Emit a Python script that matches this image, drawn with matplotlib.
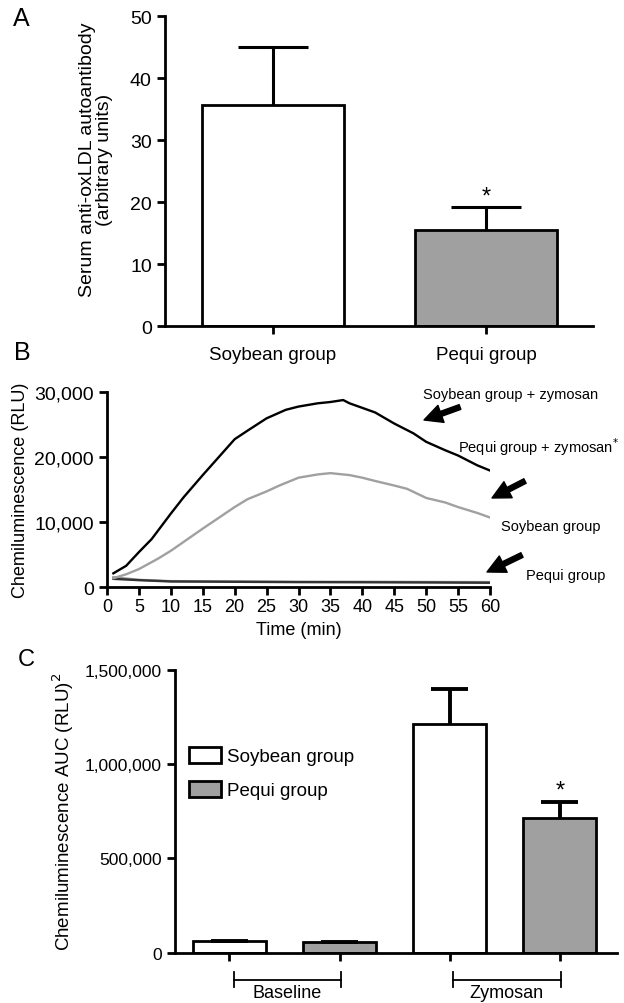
import numpy as np
import matplotlib
matplotlib.use('Agg')
from matplotlib import pyplot as plt
from matplotlib.ticker import FuncFormatter
from matplotlib.transforms import blended_transform_factory
from matplotlib.patches import Patch, FancyArrowPatch

plt.rcParams['font.family'] = ['Liberation Sans', 'DejaVu Sans']

# ---- panel A data
groups = ['Soybean group', 'Pequi group']
oxldl_mean = [35.7, 15.6]
oxldl_err = [9.3, 3.7]

# ---- panel B data
t_zym = [1, 3, 5, 7, 10, 12, 15, 18, 20, 22, 25, 28, 30, 33, 35, 37, 38, 40, 42, 45, 48, 50, 53, 55, 58, 60]
soy_zym = [2150, 3300, 5400, 7400, 11300, 13800, 17200, 20500, 22700, 24000, 25900, 27200, 27700, 28200,
           28400, 28700, 28200, 27500, 26800, 25100, 23600, 22300, 21000, 20200, 18700, 17900]
t_peq = [1, 3, 5, 8, 10, 15, 20, 22, 25, 27, 30, 33, 35, 38, 40, 42, 45, 47, 50, 53, 55, 58, 60]
peq_zym = [1400, 2000, 2800, 4400, 5600, 9000, 12300, 13500, 14700, 15600, 16800, 17300, 17500, 17200,
           16800, 16300, 15600, 15100, 13700, 13000, 12300, 11400, 10700]
t_base = [1, 5, 10, 20, 30, 40, 50, 60]
soy_base = [1300, 1100, 900, 850, 800, 780, 750, 700]
peq_base = [1550, 1150, 950, 900, 850, 850, 820, 800]

# ---- panel C data
auc_pos = [0, 1, 2, 3]
auc_mean = [60000, 56000, 1213000, 713000]
auc_err = [3000, 3000, 185000, 85000]
auc_col = ['white', '#a0a0a0', 'white', '#a0a0a0']

W, H = 624, 1004
fig = plt.figure(figsize=(W / 100, H / 100), dpi=100)
lw = 2.0

def style(ax):
    for s in ['top', 'right']:
        ax.spines[s].set_visible(False)
    for s in ['left', 'bottom']:
        ax.spines[s].set_linewidth(lw)
    ax.tick_params(width=lw, length=6, labelsize=14)

def up_err(ax, x, y, e, w, elw):
    # only upper whisker + cap
    x = np.asarray(x, float); top = np.asarray(y) + np.asarray(e)
    ax.vlines(x, y, top, color='black', lw=elw, zorder=3)
    ax.hlines(top, x - w / 2, x + w / 2, color='black', lw=elw, zorder=3)

def px(x, y):
    return x / W, 1 - y / H

# ================= A
axA = fig.add_axes([165 / W, 0.674, (593 - 165) / W, 0.309])
axA.bar([0, 1], oxldl_mean, width=0.67, color=['white', '#a0a0a0'], edgecolor='black', linewidth=lw)
up_err(axA, [0, 1], oxldl_mean, oxldl_err, 0.33, 2.2)
axA.text(1, oxldl_mean[1] + oxldl_err[1] - 0.2, '*', ha='center', va='bottom', fontsize=17)
axA.set_xlim(-0.507, 1.502)
axA.set_ylim(0, 50)
axA.set_yticks(range(0, 51, 10))
axA.set_xticks([0, 1])
axA.set_xticklabels(groups)
axA.set_ylabel('Serum anti-oxLDL autoantibody\n(arbitrary units)', fontsize=14, labelpad=12,
               linespacing=1.0)
axA.yaxis.label.set_y(0.54)
style(axA)
axA.tick_params(axis='x', labelsize=13.5, pad=8)
fig.text(*px(13, 19), 'A', fontsize=18, va='center')

# ================= B
axB = fig.add_axes([107 / W, 0.414, (490 - 107) / W, 0.195])
axB.plot(t_base, peq_base, color='#999999', lw=1.7)
axB.plot(t_base, soy_base, color='#333333', lw=1.7)
axB.plot(t_peq, peq_zym, color='#a0a0a0', lw=1.7)
axB.plot(t_zym, soy_zym, color='black', lw=1.7)
axB.set_xlim(0, 60)
axB.set_ylim(0, 30000)
axB.set_xticks(range(0, 61, 5))
axB.set_yticks([0, 10000, 20000, 30000])
axB.yaxis.set_major_formatter(FuncFormatter(lambda v, p: f'{int(v):,}'))
axB.set_xlabel('Time (min)', fontsize=13, labelpad=4)
axB.set_ylabel('Chemiluminescence (RLU)', fontsize=13, labelpad=4)
style(axB)
axB.tick_params(axis='x', labelsize=13, pad=2)
fig.text(*px(14, 353), 'B', fontsize=18, va='center')

labels_b = [('Soybean group + zymosan', 423, 395), ('Pequi group + zymosan$^{*}$', 458, 447),
            ('Soybean group', 501, 527), ('Pequi group', 526, 576)]
for txt, x, y in labels_b:
    fig.text(*px(x, y), txt, fontsize=10.5, va='center', ha='left')
arrows_b = [((460, 408), (424, 421)), ((525, 482), (492, 499)), ((522, 556), (487, 573))]
for (x0, y0), (x1, y1) in arrows_b:
    fig.add_artist(FancyArrowPatch(
        px(x0, y0), px(x1, y1), transform=fig.transFigure,
        arrowstyle='simple,head_length=1.0,head_width=1.0,tail_width=0.28', color='black',
        mutation_scale=13, shrinkA=0, shrinkB=0))

# ================= C
axC = fig.add_axes([175 / W, 0.050, (617 - 175) / W, 0.282])
axC.bar(auc_pos, auc_mean, width=0.66, color=auc_col, edgecolor='black', linewidth=lw)
up_err(axC, auc_pos, auc_mean, auc_err, 0.34, 2.8)
axC.text(3, auc_mean[3] + auc_err[3] + 5000, '*', ha='center', va='bottom', fontsize=17)
axC.set_xlim(-0.495, 3.52)
axC.set_ylim(0, 1500000)
axC.set_yticks([0, 500000, 1000000, 1500000])
axC.yaxis.set_major_formatter(FuncFormatter(lambda v, p: f'{int(v):,}'))
axC.set_xticks(auc_pos)
axC.set_xticklabels([])
axC.set_ylabel('Chemiluminescence AUC (RLU)$^2$', fontsize=13.5, labelpad=6)
style(axC)
axC.tick_params(axis='y', labelsize=12.5)
axC.legend(handles=[Patch(facecolor='white', edgecolor='black', lw=lw, label='Soybean group'),
                    Patch(facecolor='#a0a0a0', edgecolor='black', lw=lw, label='Pequi group')],
           loc='upper left', bbox_to_anchor=(0.032, 0.727), frameon=False, fontsize=13.5,
           borderpad=0, borderaxespad=0,
           handlelength=1.7, handleheight=0.9, handletextpad=0.3, labelspacing=0.85)
tr = blended_transform_factory(axC.transData, axC.transAxes)
for (a, b), name in [((0.04, 1.01), 'Baseline'), ((2.03, 3.01), 'Zymosan')]:
    axC.plot([a, b], [-0.095, -0.095], color='black', lw=1.3, transform=tr, clip_on=False)
    for e in (a, b):
        axC.plot([e, e], [-0.068, -0.120], color='black', lw=1.3, transform=tr, clip_on=False)
    axC.text((a + b) / 2, -0.172, name, ha='center', va='bottom', fontsize=13, transform=tr)
fig.text(*px(18, 660), 'C', fontsize=17, va='center')

fig.savefig('out.png', dpi=100)
